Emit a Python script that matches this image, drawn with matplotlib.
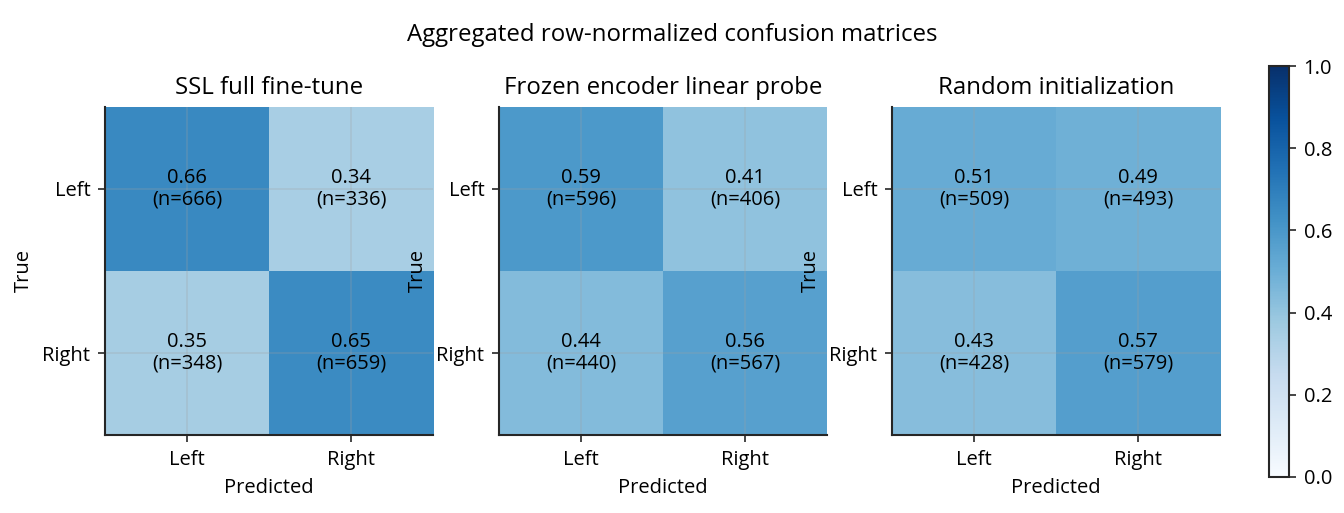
import numpy as np
import matplotlib
matplotlib.use("Agg")
import matplotlib.pyplot as plt

plt.rcParams["font.family"] = ["Open Sans", "DejaVu Sans"]

CLASSES = ["Left", "Right"]
PANEL_TITLES = ["SSL full fine-tune", "Frozen encoder linear probe", "Random initialization"]
SUPTITLE = "Aggregated row-normalized confusion matrices"

# row-normalized rates and raw counts per panel
SSL_RATES = [[0.66, 0.34], [0.35, 0.65]]
SSL_COUNTS = [[666, 336], [348, 659]]
FROZEN_RATES = [[0.59, 0.41], [0.44, 0.56]]
FROZEN_COUNTS = [[596, 406], [440, 567]]
RANDOM_RATES = [[0.51, 0.49], [0.43, 0.57]]
RANDOM_COUNTS = [[509, 493], [428, 579]]

PANELS = [
    (SSL_RATES, SSL_COUNTS),
    (FROZEN_RATES, FROZEN_COUNTS),
    (RANDOM_RATES, RANDOM_COUNTS),
]

SPINE = "#262626"
FS = 9.7
FS_TITLE = 11.5

fig = plt.figure(figsize=(8.96, 3.42), dpi=150)

lefts = [105 / 1344, 499 / 1344, 892 / 1344]
w = 328 / 1344
b = 1 - 435 / 513
h = 328 / 513

im = None
for i, (rates, counts) in enumerate(PANELS):
    ax = fig.add_axes([lefts[i], b, w, h])
    rates = np.array(rates)
    counts = np.array(counts)
    im = ax.imshow(rates, cmap="Blues", vmin=0, vmax=1, aspect="auto")
    for r in range(2):
        for c in range(2):
            ax.text(c, r, f"{rates[r, c]:.2f}\n(n={counts[r, c]})",
                    ha="center", va="center", fontsize=FS, color="black",
                    linespacing=1.1)
    ax.set_xticks(range(2))
    ax.set_yticks(range(2))
    ax.set_xticklabels(CLASSES)
    ax.set_yticklabels(CLASSES)
    ax.set_xlabel("Predicted", fontsize=FS)
    ax.set_ylabel("True", fontsize=FS)
    ax.set_title(PANEL_TITLES[i], fontsize=FS_TITLE)
    ax.tick_params(labelsize=FS, color=SPINE, length=3.5)
    ax.grid(True, color="#a0a0a0", alpha=0.28, linewidth=0.8)
    for side in ["top", "right"]:
        ax.spines[side].set_visible(False)
    for side in ["left", "bottom"]:
        ax.spines[side].set_color(SPINE)
        ax.spines[side].set_linewidth(1.0)

cax = fig.add_axes([1269 / 1344, 1 - 477 / 513, 20 / 1344, 411 / 513])
cb = fig.colorbar(im, cax=cax)
cb.set_ticks([0.0, 0.2, 0.4, 0.6, 0.8, 1.0])
cb.ax.tick_params(labelsize=FS, color=SPINE, length=3.5)
cb.outline.set_edgecolor(SPINE)
cb.outline.set_linewidth(1.0)

fig.suptitle(SUPTITLE, fontsize=FS_TITLE, y=0.955)

fig.savefig("out.png", dpi=150)
